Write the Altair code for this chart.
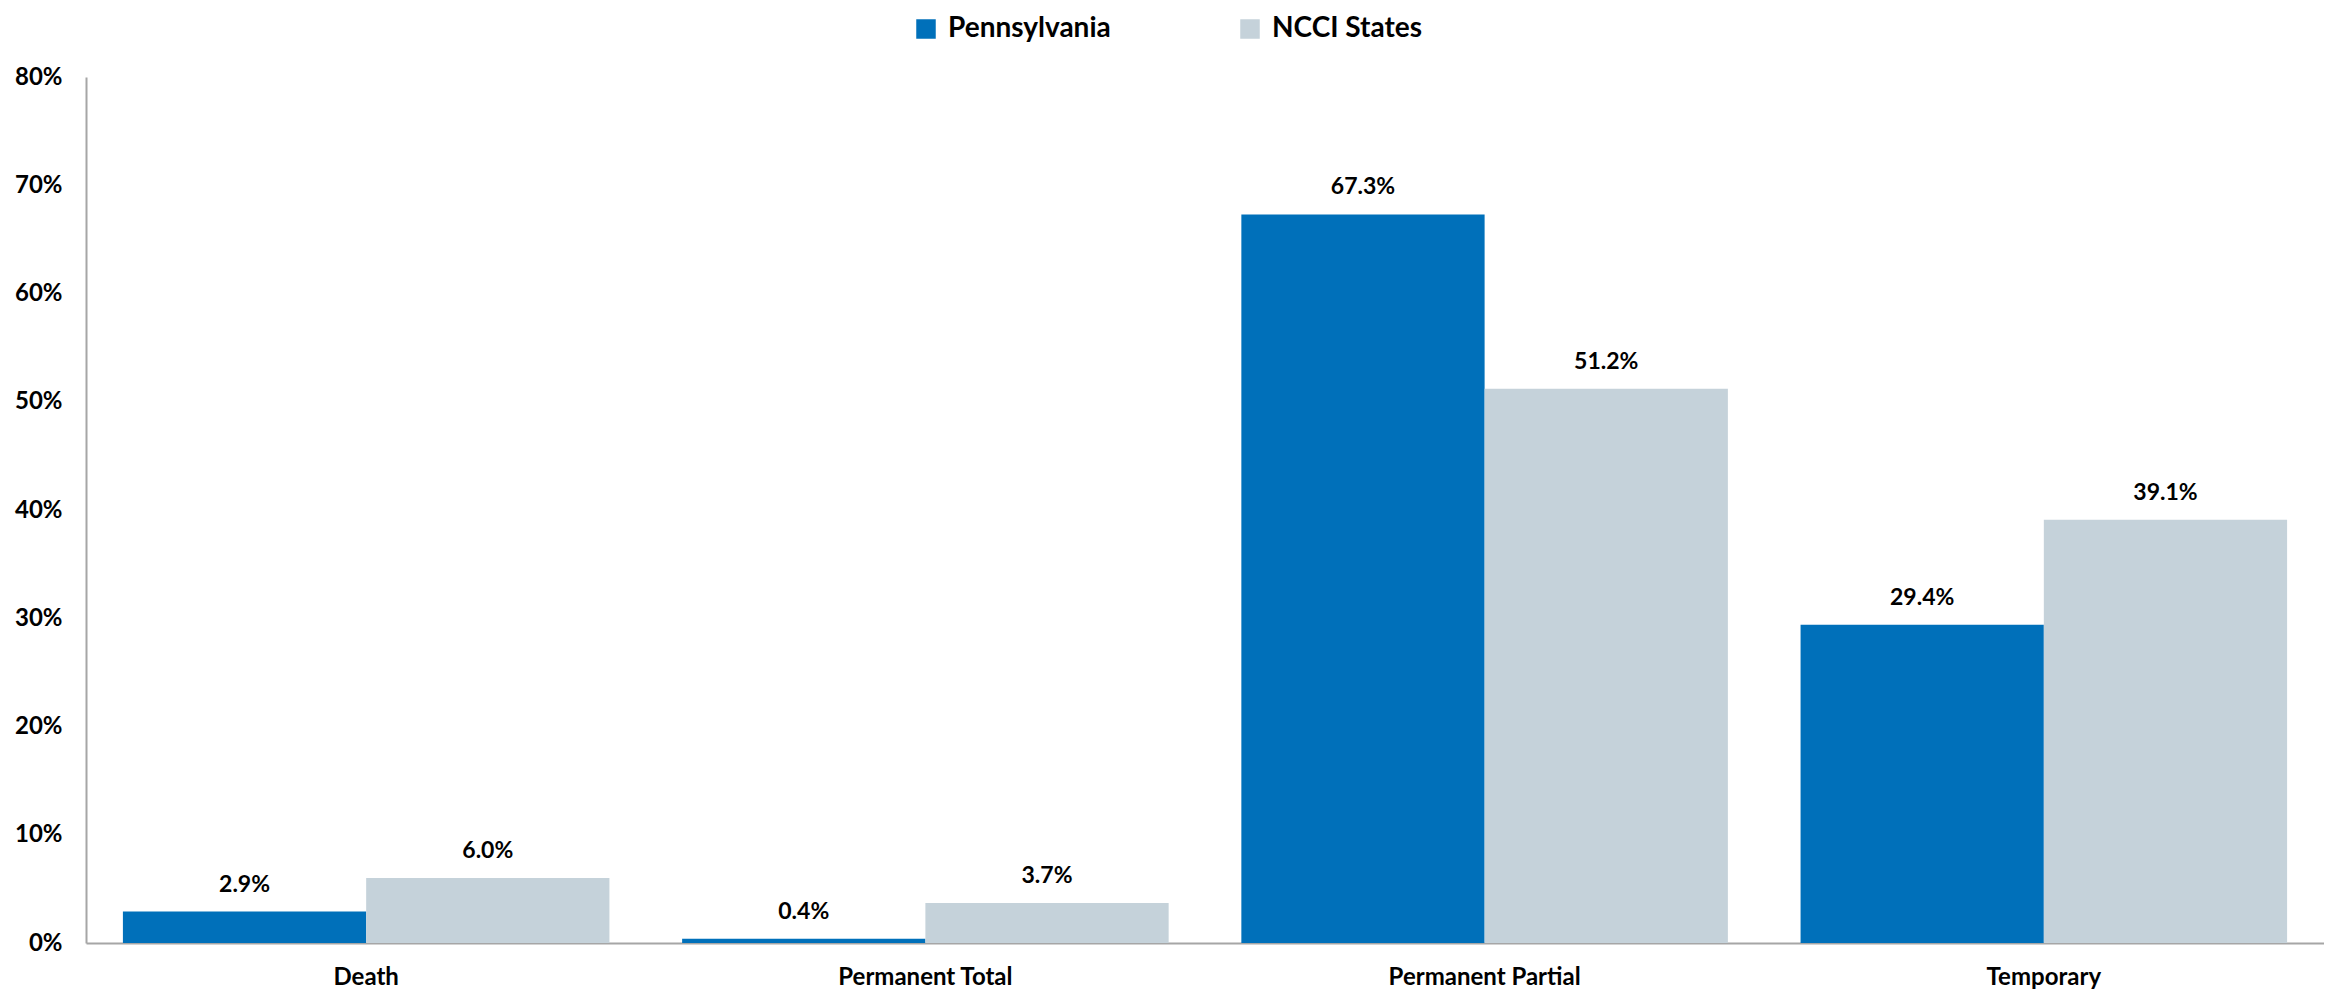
import altair as alt
import pandas as pd

categories = ["Death", "Permanent Total", "Permanent Partial", "Temporary"]
series = ["Pennsylvania", "NCCI States"]
pennsylvania = [2.9, 0.4, 67.3, 29.4]
ncci_states = [6.0, 3.7, 51.2, 39.1]
colors = ["#0070BA", "#C5D2DA"]

rows = []
for c, p, n in zip(categories, pennsylvania, ncci_states):
    rows.append({"Category": c, "Series": series[0], "Value": p / 100})
    rows.append({"Category": c, "Series": series[1], "Value": n / 100})
df = pd.DataFrame(rows)

FONT = "Lato"

x = alt.X("Category:N", sort=categories, title=None,
          scale=alt.Scale(paddingInner=0.13, paddingOuter=0.066),
          axis=alt.Axis(labelAngle=0, ticks=False, labelPadding=22, labelFontSize=24,
                        labelFontWeight="bold", labelLimit=0,
                        domainColor="#A6A6A6", domainWidth=2))
xo = alt.XOffset("Series:N", sort=series)
y = alt.Y("Value:Q", title=None,
          scale=alt.Scale(domain=[0, 0.8]),
          axis=alt.Axis(format=".0%", values=[i / 10 for i in range(9)], ticks=False,
                        grid=False, labelPadding=24, labelFontSize=24, labelFontWeight="bold",
                        domainColor="#A6A6A6", domainWidth=2))
color = alt.Color("Series:N", sort=series, title=None,
                  scale=alt.Scale(domain=series, range=colors),
                  legend=alt.Legend(orient="none", direction="horizontal", legendX=826,
                                    legendY=-62, symbolType="square", symbolSize=380,
                                    symbolStrokeWidth=0, labelFontSize=28, labelFontWeight="bold",
                                    labelLimit=0, labelOffset=8, columnPadding=125,
                                    labelColor="#000000"))

base = alt.Chart(df)
bars = base.mark_bar().encode(x=x, xOffset=xo, y=y, color=color)
labels = base.mark_text(baseline="bottom", dy=-15, fontSize=23, fontWeight="bold",
                        color="#000000").encode(
    x=x, xOffset=xo, y=y, text=alt.Text("Value:Q", format=".1%"))

chart = (bars + labels).properties(
    width=2238, height=866,
    autosize=alt.AutoSizeParams(type="none"),
    padding={"left": 78, "top": 69, "right": 0, "bottom": 50},
).configure(font=FONT).configure_view(stroke=None).configure_axis(
    labelColor="#000000", labelFont=FONT).configure_legend(labelFont=FONT)

chart.save("out.html", embed_options={"renderer": "svg", "actions": False})
